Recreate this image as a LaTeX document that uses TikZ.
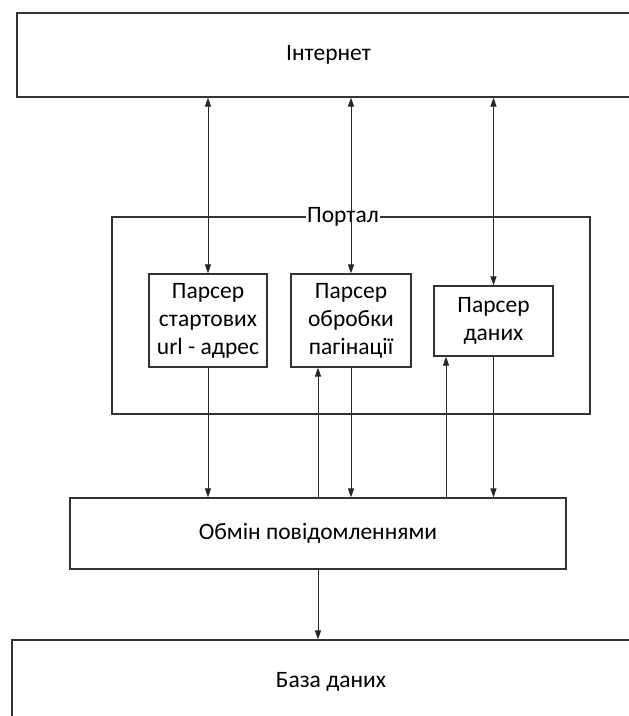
\documentclass[tikz,border=0pt]{standalone}
\usepackage{fontspec}
\setmainfont{Carlito}
\usetikzlibrary{arrows.meta}

\begin{document}
\begin{tikzpicture}[x=1pt,y=-1pt,
  blok/.style={draw=black!80,line width=1.2pt,rectangle,align=center,inner sep=0pt,
    font=\fontsize{23.5}{28}\selectfont},
  arr/.style={draw=black!85,line width=1pt,-{Triangle[length=9pt,width=6pt]}},
  darr/.style={arr,{Triangle[length=9pt,width=6pt]}-{Triangle[length=9pt,width=6pt]}}]
\path[use as bounding box,clip] (0,0) rectangle (629,716);
% boxes
\node[blok,minimum width=623pt,minimum height=84pt] (inet) at (328.5,55) {Інтернет};
\node[blok,minimum width=478pt,minimum height=197pt] (portal) at (351,315.5) {};
\node[fill=white,inner sep=1pt,font=\fontsize{23.5}{28}\selectfont] (portalLbl) at ([xshift=-8pt]portal.north) {Портал};
\node[blok,minimum width=118pt,minimum height=93pt] (parseUrl) at (208,320.5) {Парсер\\стартових\\url - адрес};
\node[blok,minimum width=120pt,minimum height=93pt] (parsePage) at (351,320.5) {Парсер\\обробки\\пагінації};
\node[blok,minimum width=119pt,minimum height=70pt] (parseData) at (493.5,321) {Парсер\\даних};
\node[blok,minimum width=496pt,minimum height=71pt] (msg) at (318,533.5) {Обмін повідомленнями};
\node[blok,minimum width=638pt,minimum height=84pt] (db) at (331,682) {База даних};
\coordinate (up1) at (318,0);
\coordinate (up2) at (446,0);
% connectors
\draw[darr] (inet.south -| parseUrl.north) -- (parseUrl.north);
\draw[darr] (inet.south -| parsePage.north) -- (parsePage.north);
\draw[darr] (inet.south -| parseData.north) -- (parseData.north);
\draw[arr] (parseUrl.south) -- (parseUrl.south |- msg.north);
\draw[arr] (parsePage.south) -- (parsePage.south |- msg.north);
\draw[arr] (parseData.south) -- (parseData.south |- msg.north);
\draw[arr] (msg.north -| up1) -- (parsePage.south -| up1);
\draw[arr] (msg.north -| up2) -- (parseData.south -| up2);
\draw[arr] (msg.south) -- (db.north -| msg.south);
\end{tikzpicture}
\end{document}
